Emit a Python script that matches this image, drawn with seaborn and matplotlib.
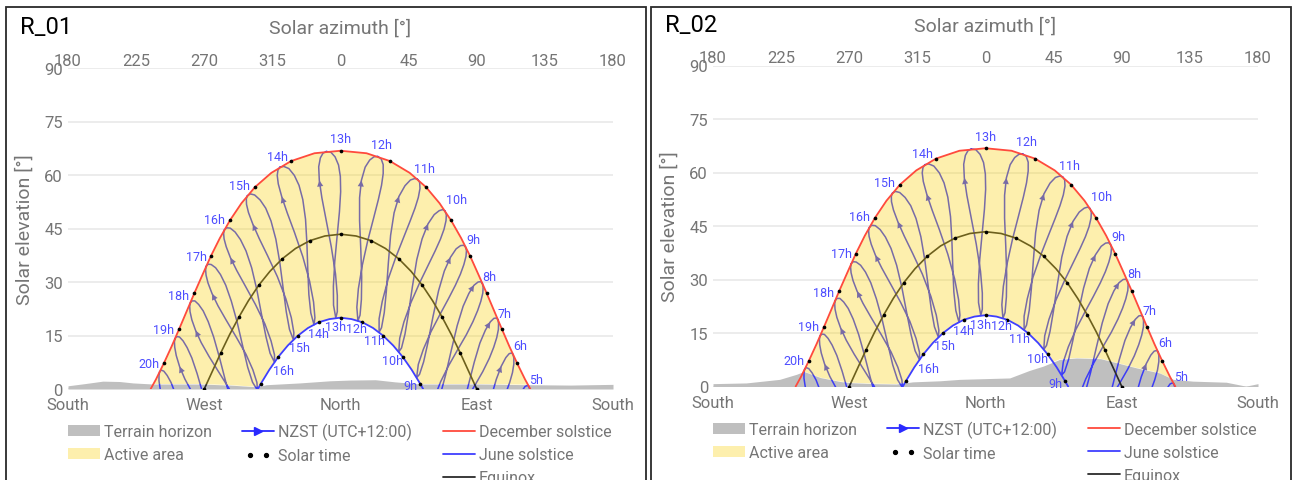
import numpy as np
import matplotlib
matplotlib.use('Agg')
import matplotlib.pyplot as plt
import seaborn as sns
from matplotlib.patches import Polygon, Rectangle, Patch
from matplotlib.lines import Line2D
from matplotlib.legend_handler import HandlerLine2D

sns.set_theme(style='white')
plt.rcParams['font.family'] = ['Roboto', 'DejaVu Sans']

nan = np.nan

# terrain horizon (azimuth, elevation) for each panel
ter1_az = [-180, -169, -157, -146, -137, -124, -93, -73, -55, -49, -27, -7, 6, 23, 36, 53, 92, 125, 152, 180]
ter1_el = [0.9, 1.5, 2.2, 2.1, 1.7, 1.4, 1.4, 1.1, 0.6, 1.2, 1.7, 2.3, 2.5, 2.6, 2.0, 1.4, 1.4, 1.2, 1.1, 1.3]
ter2_az = [-180, -158, -136, -125, -120, -116, -109, -96, -90, -74, -59, -48, -30, -17, 16, 29, 38, 49, 60, 76, 89, 100, 115, 124, 137, 159, 172, 180]
ter2_el = [0.8, 1.0, 2.0, 3.4, 4.2, 3.6, 2.5, 1.4, 1.1, 0.8, 0.7, 1.3, 1.6, 2.0, 2.4, 4.5, 5.7, 7.6, 8.0, 7.8, 6.4, 5.2, 3.8, 2.0, 1.5, 1.2, 0.1, 0.8]

# solstice / equinox day paths
dec_az = [125.4, 121.9, 116.7, 111.6, 106.6, 101.6, 96.5, 91.2, 85.7, 79.7, 73.0, 65.4, 56.5, 45.7, 32.7, 17.2, 0.0,
          -17.2, -32.7, -45.7, -56.5, -65.4, -73.0, -79.7, -85.7, -91.2, -96.5, -101.6, -106.6, -111.6, -116.7, -121.9, -125.4]
dec_el = [0.0, 2.7, 7.2, 11.9, 16.8, 21.8, 26.9, 32.0, 37.2, 42.3, 47.3, 52.1, 56.6, 60.6, 63.9, 66.1, 66.8,
          66.1, 63.9, 60.6, 56.6, 52.1, 47.3, 42.3, 37.2, 32.0, 26.9, 21.8, 16.8, 11.9, 7.2, 2.7, 0.0]
jun_az = [54.6, 52.6, 47.0, 41.1, 34.8, 28.3, 21.5, 14.5, 7.3, 0.0, -7.3, -14.5, -21.5, -28.3, -34.8, -41.1, -47.0, -52.6, -54.6]
jun_el = [0.0, 1.5, 5.4, 9.0, 12.2, 14.9, 17.1, 18.7, 19.6, 20.0, 19.6, 18.7, 17.1, 14.9, 12.2, 9.0, 5.4, 1.5, 0.0]
eq_az = [90.0, 84.5, 79.0, 73.3, 67.2, 60.9, 54.0, 46.6, 38.5, 29.7, 20.2, 10.3, 0.0,
         -10.3, -20.2, -29.7, -38.5, -46.6, -54.0, -60.9, -67.2, -73.3, -79.0, -84.5, -90.0]
eq_el = [0.0, 5.1, 10.2, 15.2, 20.1, 24.7, 29.1, 33.0, 36.5, 39.4, 41.6, 42.9, 43.4,
         42.9, 41.6, 39.4, 36.5, 33.0, 29.1, 24.7, 20.1, 15.2, 10.2, 5.1, 0.0]

# hourly solar-time dots
dec_dot_az = [127.4, 116.7, 106.6, 96.5, 85.7, 73.0, 56.5, 32.7, 0.0, -32.7, -56.5, -73.0, -85.7, -96.5, -106.6, -116.7]
dec_dot_el = [-1.5, 7.2, 16.8, 26.9, 37.2, 47.3, 56.6, 63.9, 66.8, 63.9, 56.6, 47.3, 37.2, 26.9, 16.8, 7.2]
dec_hours = [5, 6, 7, 8, 9, 10, 11, 12, 13, 14, 15, 16, 17, 18, 19, 20]
jun_dot_az = [52.6, 41.1, 28.3, 14.5, 0.0, -14.5, -28.3, -41.1, -52.6]
jun_dot_el = [1.5, 9.0, 14.9, 18.7, 20.0, 18.7, 14.9, 9.0, 1.5]
jun_hours = [9, 10, 11, 12, 13, 14, 15, 16, None]
eq_dot_az = [90.0, 79.0, 67.2, 54.0, 38.5, 20.2, 0.0, -20.2, -38.5, -54.0, -67.2, -79.0, -90.0]
eq_dot_el = [0.0, 10.2, 20.1, 29.1, 36.5, 41.6, 43.4, 41.6, 36.5, 29.1, 20.1, 10.2, 0.0]

# NZST analemmas (azimuth, elevation), one loop per clock hour
loop_05 = [(124.4, 0.7), (125.1, -0.3), (125.2, -1.9), (nan, nan), (117.0, -3.2), (119.8, -0.6), (121.9, 0.7),
           (123.4, 1.0), (124.4, 0.7)]
loop_06 = [(113.9, 9.7), (114.5, 8.7), (114.5, 7.0), (113.6, 4.6), (111.8, 1.9), (109.0, -1.4), (nan, nan),
           (99.3, -2.6), (102.9, 2.7), (106.2, 6.4), (109.2, 8.8), (111.4, 9.9), (113.0, 10.1), (113.9, 9.7)]
loop_07 = [(103.9, 19.5), (104.4, 18.4), (104.3, 16.7), (103.2, 14.4), (101.2, 11.7), (98.3, 8.6), (94.0, 4.9),
           (88.6, 0.9), (82.5, -3.4), (nan, nan), (80.3, -6.0), (84.3, 0.8), (88.4, 7.6), (92.1, 12.9),
           (95.7, 16.5), (98.9, 18.8), (101.3, 19.8), (102.9, 19.9), (103.9, 19.5)]
loop_08 = [(93.7, 29.6), (94.2, 28.5), (94.0, 26.9), (92.7, 24.6), (90.6, 22.0), (87.5, 18.9), (83.1, 15.2),
           (77.5, 11.1), (71.5, 6.6), (66.2, 2.1), (62.6, -1.8), (nan, nan), (66.1, -1.3), (69.4, 3.9),
           (73.2, 10.9), (77.1, 17.8), (81.0, 23.2), (84.8, 26.8), (88.2, 29.1), (90.9, 30.0), (92.6, 30.1),
           (93.7, 29.6)]
loop_09 = [(82.5, 39.9), (83.2, 38.8), (82.9, 37.2), (81.5, 34.9), (79.2, 32.2), (75.9, 29.1), (71.3, 25.3),
           (65.7, 20.9), (59.7, 16.0), (54.7, 11.1), (51.4, 6.9), (50.3, 3.2), (52.2, 4.1), (54.9, 7.6),
           (57.8, 13.1), (61.1, 20.3), (64.8, 27.6), (68.6, 33.1), (72.6, 36.9), (76.4, 39.3), (79.3, 40.2),
           (81.3, 40.3), (82.5, 39.9)]
loop_10 = [(69.0, 49.9), (69.9, 48.8), (69.7, 47.2), (68.4, 44.8), (66.0, 42.0), (62.5, 38.7), (57.8, 34.6),
           (52.2, 29.7), (46.5, 24.2), (41.9, 18.8), (39.1, 14.2), (38.5, 10.4), (40.3, 11.5), (42.6, 15.4),
           (44.9, 21.2), (47.5, 28.7), (50.4, 36.3), (53.9, 42.1), (57.8, 46.3), (61.9, 48.9), (65.2, 50.0),
           (67.5, 50.3), (69.0, 49.9)]
loop_11 = [(50.9, 58.8), (52.3, 57.9), (52.5, 56.2), (51.4, 53.7), (49.2, 50.7), (46.0, 47.1), (41.6, 42.4),
           (36.5, 36.9), (31.4, 30.7), (27.6, 24.6), (25.5, 19.7), (25.5, 15.9), (27.1, 17.2), (28.9, 21.4),
           (30.3, 27.5), (31.6, 35.3), (33.1, 43.1), (35.4, 49.4), (38.6, 54.0), (42.6, 57.0), (46.2, 58.6),
           (49.0, 59.0), (50.9, 58.8)]
loop_12 = [(24.6, 65.2), (26.9, 64.5), (28.2, 62.9), (28.2, 60.4), (27.1, 57.1), (25.0, 53.1), (21.8, 47.8),
           (18.0, 41.6), (14.4, 34.7), (11.8, 28.1), (10.8, 22.9), (11.5, 19.1), (12.9, 20.7), (13.8, 25.1),
           (14.0, 31.4), (13.4, 39.2), (12.6, 47.2), (12.6, 53.6), (13.8, 58.5), (16.3, 62.2), (19.3, 64.2),
           (22.1, 65.1), (24.6, 65.2)]
loop_13 = [(-9.4, 66.6), (-6.4, 66.4), (-3.6, 65.1), (-1.3, 62.8), (-0.1, 59.6), (0.1, 55.3), (-0.7, 49.7),
           (-2.2, 43.0), (-3.8, 35.7), (-4.7, 28.8), (-4.6, 23.5), (-3.1, 19.9), (-2.1, 21.7), (-2.1, 26.2),
           (-3.3, 32.3), (-6.1, 39.9), (-9.5, 47.4), (-12.3, 53.6), (-14.0, 58.5), (-14.4, 62.3), (-13.3, 64.8),
           (-11.6, 66.1), (-9.4, 66.6)]
loop_14 = [(-40.0, 62.2), (-37.4, 62.4), (-34.1, 61.8), (-30.5, 59.9), (-27.4, 57.1), (-24.9, 53.1), (-23.1, 47.6),
           (-22.2, 40.9), (-21.6, 33.4), (-20.9, 26.5), (-19.6, 21.3), (-17.5, 18.0), (-16.9, 20.0), (-17.8, 24.4),
           (-20.4, 30.2), (-24.9, 37.1), (-30.4, 43.9), (-35.2, 49.4), (-38.8, 53.9), (-41.1, 57.5), (-41.8, 59.9),
           (-41.3, 61.4), (-40.0, 62.2)]
loop_15 = [(-61.5, 54.2), (-59.5, 54.7), (-56.7, 54.4), (-53.1, 53.0), (-49.4, 50.7), (-45.9, 47.1), (-42.7, 42.0),
           (-40.1, 35.5), (-37.9, 28.3), (-35.8, 21.6), (-33.7, 16.7), (-31.1, 13.8), (-30.8, 15.8), (-32.5, 20.0),
           (-36.1, 25.3), (-41.7, 31.5), (-48.2, 37.4), (-53.7, 42.2), (-57.9, 46.2), (-60.8, 49.5), (-62.1, 51.8),
           (-62.2, 53.3), (-61.5, 54.2)]
loop_16 = [(-76.7, 44.6), (-75.2, 45.2), (-72.8, 45.1), (-69.6, 44.0), (-66.1, 41.9), (-62.4, 38.7), (-58.7, 34.0),
           (-55.3, 27.9), (-52.2, 21.0), (-49.2, 14.6), (-46.5, 10.0), (-43.6, 7.5), (-43.6, 9.6), (-45.9, 13.5),
           (-50.0, 18.3), (-56.2, 23.7), (-62.9, 28.9), (-68.5, 33.2), (-72.7, 36.8), (-75.5, 39.9), (-76.9, 42.1),
           (-77.2, 43.6), (-76.7, 44.6)]
loop_17 = [(-88.7, 34.4), (-87.4, 35.0), (-85.4, 34.9), (-82.5, 34.0), (-79.3, 32.1), (-75.8, 29.1), (-72.1, 24.6),
           (-68.3, 18.8), (-64.7, 12.2), (-61.3, 6.1), (-58.1, 1.9), (-54.9, -0.3), (-55.2, 1.8), (-57.9, 5.4),
           (-62.4, 9.7), (-68.8, 14.5), (-75.5, 19.3), (-80.9, 23.3), (-84.8, 26.7), (-87.5, 29.7), (-88.8, 31.9),
           (-89.1, 33.4), (-88.7, 34.4)]
loop_18 = [(-99.2, 24.1), (-98.1, 24.7), (-96.2, 24.7), (-93.7, 23.7), (-90.7, 21.9), (-87.4, 18.9), (-83.8, 14.6),
           (-80.0, 8.9), (-76.1, 2.5), (-72.3, -3.3), (nan, nan), (-68.9, -3.8), (-73.7, 0.2), (-80.2, 4.6),
           (-86.8, 9.1), (-92.0, 13.0), (-95.7, 16.4), (-98.2, 19.4), (-99.4, 21.7), (-99.6, 23.2), (-99.2, 24.1)]
loop_19 = [(-109.3, 14.1), (-108.2, 14.7), (-106.4, 14.6), (-104.0, 13.5), (-101.3, 11.6), (-98.2, 8.7),
           (-94.7, 4.3), (-90.9, -1.3), (nan, nan), (-97.7, -1.2), (-102.8, 2.8), (-106.3, 6.3), (-108.5, 9.4),
           (-109.5, 11.7), (-109.7, 13.2), (-109.3, 14.1)]
loop_20 = [(-119.5, 4.8), (-118.4, 5.3), (-116.7, 5.0), (-114.5, 3.8), (-111.9, 1.8), (-109.0, -1.4), (nan, nan),
           (-117.1, -3.2), (-119.1, 0.0), (-119.9, 2.3), (-119.9, 3.8), (-119.5, 4.8)]

loops = [loop_05, loop_06, loop_07, loop_08, loop_09, loop_10, loop_11, loop_12,
         loop_13, loop_14, loop_15, loop_16, loop_17, loop_18, loop_19, loop_20]
# which vertex of each loop carries the direction arrow
arrow_at = [None, 9, 15, 18, 18, 18, 18, 18, 18, 18, 18, 18, 18, 16, 11, None]

# label placement (alignment, x offset px, y offset px) next to the dots
dec_lab = {5: ('left', -4, 15), 6: ('left', -4, 18), 7: ('left', -4, 16), 8: ('left', -4, 17),
           9: ('left', -4, 17), 10: ('left', -5, 21), 11: ('left', -12, 19), 12: ('left', -19, 17),
           13: ('center', 0, 12), 14: ('right', -3, 5), 15: ('right', -5, 2), 16: ('right', -5, 1),
           17: ('right', -4, 0), 18: ('right', -5, -2), 19: ('right', -5, 0), 20: ('right', -4, 0)}
jun_lab = {9: ('right', -3, -2), 10: ('right', 0, -4), 11: ('right', 2, -5), 12: ('right', 5, -6),
           13: ('right', 6, -9), 14: ('left', -11, -11), 15: ('left', -9, -12), 16: ('left', -5, -14)}

W, HH = 1293, 481
GREY = '#757575'
BLUE = '#3c3cf5'
fig = plt.figure(figsize=(12.93, 4.81), dpi=100)

def fx(px):
    return px / W

def fy(py):
    return 1 - py / HH

for tag, dx, dy, taz, tel in [('R_01', 0, 0, ter1_az, ter1_el), ('R_02', 645, -2.5, ter2_az, ter2_el)]:
    ax = fig.add_axes([fx(68 + dx), fy(390 + dy), 545 / W, 321 / HH])
    ax.set_xlim(-180, 180)
    ax.set_ylim(0, 90)
    for sp in ax.spines.values():
        sp.set_visible(False)
    ax.set_yticks([0, 15, 30, 45, 60, 75, 90])
    ax.yaxis.grid(True, color='#e9e9e9', lw=1.2, zorder=0)
    ax.xaxis.grid(False)
    ax.set_xticks([-180, -90, 0, 90, 180], ['South', 'West', 'North', 'East', 'South'])
    ax.tick_params(length=0, labelsize=12, labelcolor=GREY)
    ax.tick_params(axis='x', pad=6)
    ax.tick_params(axis='y', pad=3.6)
    sec = ax.secondary_xaxis('top')
    sec.set_xticks([-180, -135, -90, -45, 0, 45, 90, 135, 180],
                   ['180', '225', '270', '315', '0', '45', '90', '135', '180'])
    sec.tick_params(length=0, labelsize=12, labelcolor=GREY, pad=0)
    for sp in sec.spines.values():
        sp.set_visible(False)

    # terrain
    ax.fill_between(taz, 0, tel, color='#bfbfbf', lw=0, zorder=1)

    # analemmas
    for lp, ia in zip(loops, arrow_at):
        p = np.array(lp, dtype=float)
        ax.plot(p[:, 0], p[:, 1], color=BLUE, lw=1.1, zorder=2, solid_capstyle='round')
        if ia is not None:
            ax.annotate('', xy=p[ia], xytext=p[ia - 1],
                        arrowprops=dict(arrowstyle='-|>', color=BLUE, lw=0.01, mutation_scale=11,
                                        shrinkA=0, shrinkB=0), zorder=2)

    ax.plot(eq_az, eq_el, color='#2b2b2b', lw=1.2, zorder=2)

    # active area, only above the terrain
    area = Polygon(np.column_stack([dec_az + jun_az[::-1], dec_el + jun_el[::-1]]),
                   closed=True, fc='#f9d000', alpha=0.32, lw=0, zorder=3)
    ax.add_patch(area)
    clip = Polygon(np.column_stack([taz + [180, -180], tel + [95, 95]]), closed=True,
                   transform=ax.transData)
    area.set_clip_path(clip)

    sns.lineplot(x=dec_az, y=dec_el, sort=False, estimator=None, color='#ff4a3d', lw=1.3, ax=ax, zorder=4)
    sns.lineplot(x=jun_az, y=jun_el, sort=False, estimator=None, color='#3f3fff', lw=1.3, ax=ax, zorder=4)
    for xs, ys in [(dec_dot_az, dec_dot_el), (jun_dot_az, jun_dot_el), (eq_dot_az, eq_dot_el)]:
        ax.scatter(xs, ys, s=7, color='black', zorder=5, lw=0)

    for x, y, h in zip(dec_dot_az, dec_dot_el, dec_hours):
        ha, ox, oy = dec_lab[h]
        ax.annotate(f'{h}h', (x, y), xytext=(ox*0.72, oy*0.72), textcoords='offset points', ha=ha,
                    va='center', fontsize=9, color='#4d4dff', zorder=6, annotation_clip=False)
    for x, y, h in zip(jun_dot_az, jun_dot_el, jun_hours):
        if h is None:
            continue
        ha, ox, oy = jun_lab[h]
        ax.annotate(f'{h}h', (x, y), xytext=(ox*0.72, oy*0.72), textcoords='offset points', ha=ha,
                    va='center', fontsize=9, color='#4d4dff', zorder=6, annotation_clip=False)

    fig.text(fx(20 + dx), fy(28 + dy), tag, fontsize=17, color='black', ha='left', va='center')
    fig.text(fx(340.5 + dx), fy(29 + dy), 'Solar azimuth [°]', fontsize=14, color=GREY, ha='center', va='center')
    fig.text(fx(24.5 + dx), fy(229.5 + dy), 'Solar elevation [°]', fontsize=14, color=GREY,
             ha='center', va='center', rotation=90)
    fig.add_artist(Rectangle((fx(6 + dx), fy(560)), 640 / W, 552 / HH, transform=fig.transFigure,
                             fill=False, ec='#2a2a2a', lw=1.3))

    h_ter = Patch(fc='#bfbfbf', lw=0)
    h_act = Patch(fc='#f9d000', alpha=0.32, lw=0)
    h_nz = Line2D([0], [0], color='#2a2aff', lw=1.3, marker='>', markersize=6)
    h_sol = Line2D([0], [0], ls='none', marker='o', color='black', markersize=2.8)
    h_dec = Line2D([0], [0], color='#ff4a3d', lw=1.3)
    h_jun = Line2D([0], [0], color='#3f3fff', lw=1.3)
    h_eq = Line2D([0], [0], color='#2b2b2b', lw=1.3)
    blank = Line2D([0], [0], alpha=0)
    ax.legend([h_ter, h_act, blank, h_nz, h_sol, blank, h_dec, h_jun, h_eq],
              ['Terrain horizon', 'Active area', '', 'NZST (UTC+12:00)', 'Solar time', '',
               'December solstice', 'June solstice', 'Equinox'],
              ncol=3, loc='upper left', bbox_to_anchor=(fx(68 + dx), fy(424 + dy)),
              bbox_transform=fig.transFigure, frameon=False, fontsize=11.5, labelcolor=GREY,
              handlelength=2.0, handletextpad=0.25, columnspacing=1.9, labelspacing=0.5,
              borderpad=0, borderaxespad=0, numpoints=1,
              handler_map={h_sol: HandlerLine2D(numpoints=2, marker_pad=0.5)})

fig.savefig('out.png', dpi=100)
